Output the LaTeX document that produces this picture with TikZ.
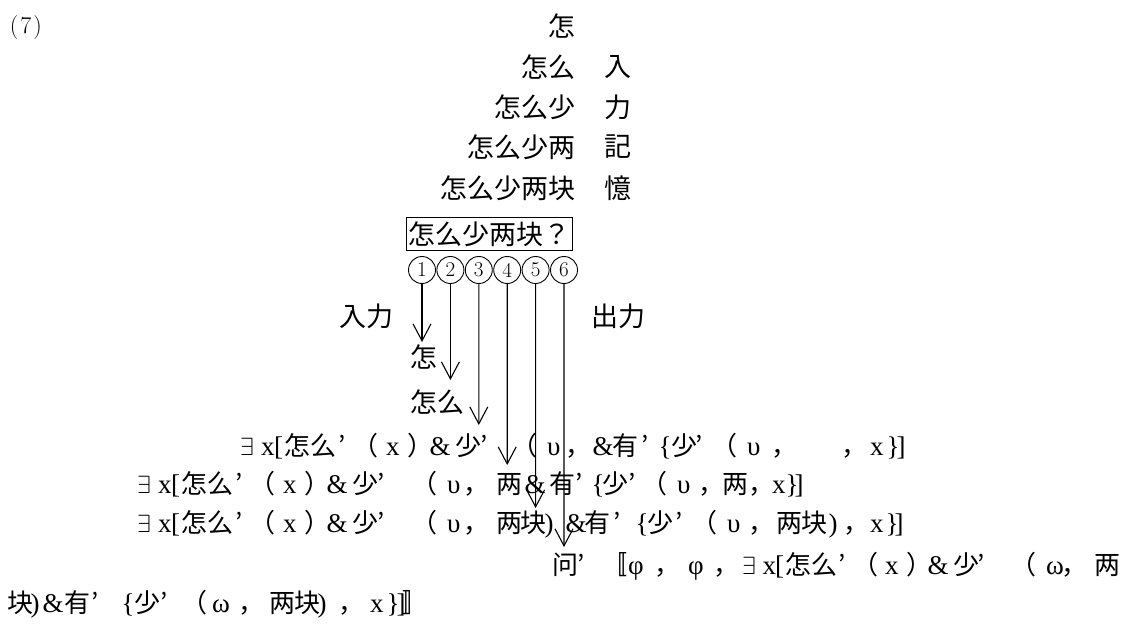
\documentclass[tikz,border=0pt]{standalone}
\usepackage{fontspec}
\newfontfamily\cjk{Noto Sans CJK JP}
\newfontfamily\ser{Liberation Serif}
\usetikzlibrary{arrows.meta}
% place a glyph with its box starting #1 pt from the line origin
\newcommand\gp[2]{\makebox[0pt][l]{\hspace*{#1pt}#2}}
\newcommand\lt[1]{{\ser\fontsize{27}{30}\selectfont #1}}
\tikzset{
  st/.style={font=\cjk\fontsize{27}{32}\selectfont, inner sep=0pt},
  fm/.style={font=\cjk\fontsize{26}{30}\selectfont, inner sep=0pt, anchor=base west},
  num/.style={circle, draw, line width=0.9pt, minimum size=27pt, inner sep=0pt, font=\fontsize{21}{24}\selectfont},
  arr/.style={line width=1.1pt, -{Straight Barb[length=17pt, width=18pt]}},
  qbox/.style={draw, line width=1.8pt, inner xsep=2pt, inner ysep=4pt, font=\cjk\fontsize{27}{32}\selectfont},
}
\begin{document}
\begin{tikzpicture}[x=1pt,y=-1pt]
\fill[white] (0,0) rectangle (1137,624);
\useasboundingbox (0,0) rectangle (1137,624);
\node[font=\fontsize{24}{28}\selectfont, inner sep=0pt] (n7) at (26,27.5) {(\kern2pt7\kern2pt)};
% growing stack
\node[st, anchor=east] (s1) at (576,26) {怎};
\node[st, anchor=east] (s2) at (576,67) {怎么};
\node[st, anchor=east] (s3) at (576,107) {怎么少};
\node[st, anchor=east] (s4) at (576,147) {怎么少两};
\node[st, anchor=east] (s5) at (576,188) {怎么少两块};
\node[st] (r2) at (618,67) {入};
\node[st] (r3) at (618,107) {力};
\node[st] (r4) at (618,147) {記};
\node[st] (r5) at (618,188) {憶};
\node[qbox] (qb) at (489.5,234) {怎么少两块？};
% circled numbers
\foreach \i in {1,...,6} {
  \node[num] (c\i) at ({422+28.4*(\i-1)},270) {\i};
}
\node[st] (in) at (366,316) {入力};
\node[st] (out) at (618,316) {出力};
\node[st, anchor=west] (w1) at (410,357) {怎};
\node[st, anchor=west] (w2) at (410,402) {怎么};
% formula lines (glyphs placed at measured offsets)
\node[fm] (l1) at (0,455) {\gp{239.5}{$\exists$}\gp{260.5}{\lt{x}}\gp{273.5}{\lt{[}}\gp{284}{怎}\gp{310}{么}\gp{338}{’}\gp{352}{（}\gp{385.5}{\lt{x}}\gp{407}{）}\gp{429}{\lt{\&}}\gp{455}{少}\gp{480}{’}\gp{511}{（}\gp{546.5}{\lt{υ}}\gp{564.5}{，}\gp{592}{\lt{\&}}\gp{612}{有}\gp{641}{’}\gp{658}{\lt{\{}}\gp{671}{少}\gp{695}{’}\gp{711}{（}\gp{746.5}{\lt{υ}}\gp{770.5}{，}\gp{840.5}{，}\gp{869.5}{\lt{x}}\gp{886}{\lt{\}}}\gp{896}{\lt{]}}};
\node[fm] (l2) at (0,493) {\gp{136.5}{$\exists$}\gp{157.5}{\lt{x}}\gp{170.5}{\lt{[}}\gp{181}{怎}\gp{207}{么}\gp{235}{’}\gp{249}{（}\gp{282.5}{\lt{x}}\gp{304}{）}\gp{326}{\lt{\&}}\gp{352}{少}\gp{377}{’}\gp{411}{（}\gp{446.5}{\lt{υ}}\gp{462.5}{，}\gp{496}{两}\gp{524}{\lt{\&}}\gp{549}{有}\gp{575}{’}\gp{591}{\lt{\{}}\gp{602}{少}\gp{628}{’}\gp{641}{（}\gp{676.5}{\lt{υ}}\gp{697.5}{，}\gp{722}{两}\gp{747.5}{，}\gp{771.5}{\lt{x}}\gp{785}{\lt{\}}}\gp{794}{\lt{]}}};
\node[fm] (l3) at (0,532) {\gp{136.5}{$\exists$}\gp{157.5}{\lt{x}}\gp{170.5}{\lt{[}}\gp{181}{怎}\gp{207}{么}\gp{235}{’}\gp{249}{（}\gp{282.5}{\lt{x}}\gp{304}{）}\gp{326}{\lt{\&}}\gp{352}{少}\gp{377}{’}\gp{411}{（}\gp{446.5}{\lt{υ}}\gp{462.5}{，}\gp{496}{两}\gp{520}{块}\gp{544}{\lt{)}}\gp{565}{\lt{\&}}\gp{584}{有}\gp{613}{’}\gp{635}{\lt{\{}}\gp{647}{少}\gp{675}{’}\gp{691}{（}\gp{726.5}{\lt{υ}}\gp{747.5}{，}\gp{776}{两}\gp{801}{块}\gp{828}{\lt{)}}\gp{842.5}{，}\gp{869.5}{\lt{x}}\gp{885}{\lt{\}}}\gp{894}{\lt{]}}};
\node[fm] (l4) at (0,574) {\gp{552}{问}\gp{577}{’}\gp{601}{〚}\gp{627.5}{\lt{φ}}\gp{653.5}{，}\gp{687.5}{\lt{φ}}\gp{712.5}{，}\gp{741.5}{$\exists$}\gp{762}{\lt{x}}\gp{774.5}{\lt{[}}\gp{785}{怎}\gp{810.5}{么}\gp{838}{’}\gp{851.5}{（}\gp{884.5}{\lt{x}}\gp{905.5}{）}\gp{927}{\lt{\&}}\gp{952.5}{少}\gp{977}{’}\gp{1010}{（}\gp{1045.5}{\lt{ω}}\gp{1061}{，}\gp{1094}{两}};
\node[fm] (l5) at (0,612) {\gp{7}{块}\gp{30}{\lt{)}}\gp{42}{\lt{\&}}\gp{64}{有}\gp{91}{’}\gp{121}{\lt{\{}}\gp{134}{少}\gp{160}{’}\gp{181}{（}\gp{211.5}{\lt{ω}}\gp{237.5}{，}\gp{269}{两}\gp{294}{块}\gp{317}{\lt{)}}\gp{337.5}{，}\gp{369.5}{\lt{x}}\gp{386}{\lt{\}}}\gp{396}{\lt{]}}\gp{402}{〛}};
% arrows
\coordinate (e1) at (422,342);
\coordinate (e2) at (450.4,380);
\coordinate (e3) at (478.8,425);
\coordinate (e4) at (507.2,465);
\coordinate (e5) at (535.6,508);
\coordinate (e6) at (564,547);
\foreach \i in {1,...,6} {
  \draw[arr] (c\i.south) -- (e\i);
}
\end{tikzpicture}
\end{document}
